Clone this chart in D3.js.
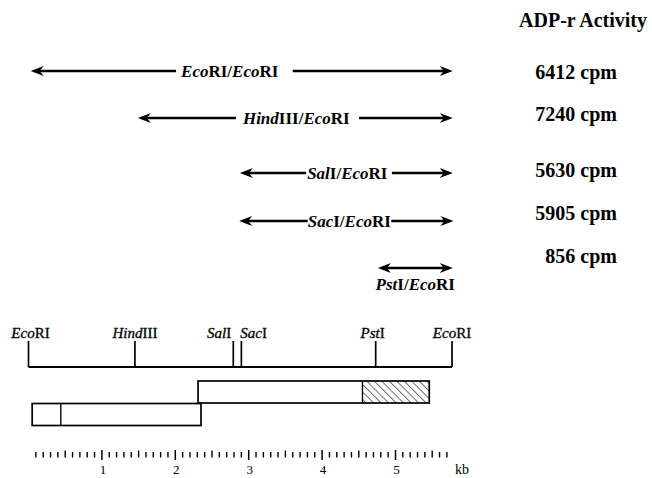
<!DOCTYPE html>
<html>
<head>
<meta charset="utf-8">
<script src="https://cdnjs.cloudflare.com/ajax/libs/d3/7.8.5/d3.min.js"></script>
<style>
  body { margin: 0; background: #fff; }
  svg { display: block; font-family: 'Liberation Serif', 'Times New Roman', serif; }
</style>
</head>
<body>
<div id="chart"></div>
<script>
// fragments tested (kb along the map) and their activity
var fragEnzyme = ["EcoRI", "HindIII", "SalI", "SacI", "PstI"];
var fragStart = [0.03, 1.49, 2.88, 2.87, 4.76];
var fragEnd = [5.78, 5.78, 5.78, 5.79, 5.78];
var activity = [6412, 7240, 5630, 5905, 856];

// restriction sites on the map
var siteName = ["EcoRI", "HindIII", "SalI", "SacI", "PstI", "EcoRI"];
var sitePos = [0, 1.45, 2.79, 2.90, 4.73, 5.77];

// clones under the map
var cloneStart = [2.31, 0.05];
var cloneEnd = [5.46, 2.35];
var cloneHatch = [4.55, null];
var cloneDivider = [null, 0.44];

// scale bar
var scaleLabels = [1, 2, 3, 4, 5];
var scaleMax = 5.7;

// layout
var width = 652, height = 478;
var rowY = [71, 118, 173, 221, 268];
var cpmY = [79, 121, 177, 220, 263];
var labelDx = [-12, 1, 1, 3, 0];
var padL = [4, 6, 1, 0, 0], padR = [14, 9, 4, 0, 0];
var siteAnchor = ["middle", "middle", "end", "start", "middle", "middle"];
var siteDx = [2, 0, -2, -1, -3, 0];

var svg = d3.select("#chart").append("svg")
  .attr("width", width).attr("height", height);

var x = d3.scaleLinear().domain([0, 6]).range([28.5, 28.5 + 6 * 73.4]);

function splitName(s) {
  var m = s.match(/^(.*?)([IVR]+)$/);
  return [m[1], m[2]];
}
function enzymeText(t, name) {
  var p = splitName(name);
  t.append("tspan").style("font-style", "italic").text(p[0]);
  t.append("tspan").text(p[1]);
}
function arrowHead(g, xTip, y, dir) {
  g.append("path")
    .attr("d", "M" + xTip + "," + y +
      "L" + (xTip - dir * 13) + "," + (y - 5) +
      "L" + (xTip - dir * 9) + "," + y +
      "L" + (xTip - dir * 13) + "," + (y + 5) + "Z")
    .attr("fill", "#000");
}

//////////////////////// header ////////////////////////
svg.append("text")
  .attr("x", 647).attr("y", 27)
  .attr("text-anchor", "end")
  .style("font-size", "20px").style("font-weight", "bold")
  .text("ADP-r Activity");

//////////////////////// fragment arrows ////////////////////////
fragEnzyme.forEach(function(name, i) {
  var g = svg.append("g");
  var y = rowY[i], x0 = x(fragStart[i]), x1 = x(fragEnd[i]);
  var mid = (x0 + x1) / 2 + labelDx[i];

  var label = g.append("text")
    .style("font-size", "17px").style("font-weight", "bold")
    .attr("text-anchor", "middle")
    .attr("x", mid);
  enzymeText(label, name);
  label.append("tspan").text("/");
  enzymeText(label, "EcoRI");

  if (i < 4) {
    label.attr("y", y + 6);
    var bb = label.node().getBBox();
    g.append("line").attr("x1", x0 + 4).attr("x2", bb.x - padL[i])
      .attr("y1", y).attr("y2", y).attr("stroke", "#000").attr("stroke-width", 2.3);
    g.append("line").attr("x1", bb.x + bb.width + padR[i]).attr("x2", x1 - 4)
      .attr("y1", y).attr("y2", y).attr("stroke", "#000").attr("stroke-width", 2.3);
  } else {
    label.attr("y", y + 22);
    g.append("line").attr("x1", x0 + 4).attr("x2", x1 - 4)
      .attr("y1", y).attr("y2", y).attr("stroke", "#000").attr("stroke-width", 2.3);
  }
  arrowHead(g, x0, y, -1);
  arrowHead(g, x1, y, 1);

  svg.append("text")
    .attr("x", 617).attr("y", cpmY[i])
    .attr("text-anchor", "end")
    .style("font-size", "20px").style("font-weight", "bold")
    .text(activity[i] + " cpm");
});

//////////////////////// restriction map ////////////////////////
var mapY = 367;
svg.append("line")
  .attr("x1", x(sitePos[0])).attr("x2", x(sitePos[sitePos.length - 1]))
  .attr("y1", mapY).attr("y2", mapY)
  .attr("stroke", "#000").attr("stroke-width", 2.2);

siteName.forEach(function(name, i) {
  svg.append("line")
    .attr("x1", x(sitePos[i])).attr("x2", x(sitePos[i]))
    .attr("y1", 341).attr("y2", mapY)
    .attr("stroke", "#000").attr("stroke-width", 1.7);
  var t = svg.append("text")
    .attr("x", x(sitePos[i]) + siteDx[i]).attr("y", 337.5)
    .attr("text-anchor", siteAnchor[i])
    .style("font-size", "15px")
    .style("stroke", "#000").style("stroke-width", 0.3);
  enzymeText(t, name);
});

//////////////////////// clones ////////////////////////
var defs = svg.append("defs");
defs.append("pattern")
  .attr("id", "hatch").attr("patternUnits", "userSpaceOnUse")
  .attr("width", 5.3).attr("height", 5.3)
  .attr("patternTransform", "rotate(-45)")
  .append("line")
  .attr("x1", 0).attr("y1", 0).attr("x2", 0).attr("y2", 5.3)
  .attr("stroke", "#000").attr("stroke-width", 1.1);

var cloneTop = [381, 403.5], cloneH = 22;
cloneStart.forEach(function(s, i) {
  if (cloneHatch[i] != null) {
    svg.append("rect")
      .attr("x", x(cloneHatch[i])).attr("y", cloneTop[i])
      .attr("width", x(cloneEnd[i]) - x(cloneHatch[i])).attr("height", cloneH)
      .attr("fill", "url(#hatch)");
    svg.append("line")
      .attr("x1", x(cloneHatch[i])).attr("x2", x(cloneHatch[i]))
      .attr("y1", cloneTop[i]).attr("y2", cloneTop[i] + cloneH)
      .attr("stroke", "#000").attr("stroke-width", 1.4);
  }
  if (cloneDivider[i] != null) {
    svg.append("line")
      .attr("x1", x(cloneDivider[i])).attr("x2", x(cloneDivider[i]))
      .attr("y1", cloneTop[i]).attr("y2", cloneTop[i] + cloneH)
      .attr("stroke", "#000").attr("stroke-width", 1.4);
  }
  svg.append("rect")
    .attr("x", x(s)).attr("y", cloneTop[i])
    .attr("width", x(cloneEnd[i]) - x(s)).attr("height", cloneH)
    .attr("fill", "none").attr("stroke", "#000").attr("stroke-width", 1.7);
});

//////////////////////// scale bar ////////////////////////
var tickBase = 457.5;
d3.range(1, Math.round(scaleMax * 10) + 1).forEach(function(k) {
  var major = k % 10 === 0, medium = k % 5 === 0;
  svg.append("line")
    .attr("x1", x(k / 10)).attr("x2", x(k / 10))
    .attr("y1", major ? 450 : (medium ? 450.5 : 452))
    .attr("y2", major ? 460 : tickBase)
    .attr("stroke", "#000").attr("stroke-width", major ? 1.5 : 1.4);
});
svg.selectAll(".scaleLabel")
  .data(scaleLabels).enter().append("text")
  .attr("class", "scaleLabel")
  .attr("x", function(d) { return x(d) + 1; })
  .attr("y", 474)
  .attr("text-anchor", "middle")
  .style("font-size", "13px")
  .text(function(d) { return d; });
svg.append("text")
  .attr("x", 455).attr("y", 474)
  .style("font-size", "14px")
  .text("kb");
</script>
</body>
</html>
